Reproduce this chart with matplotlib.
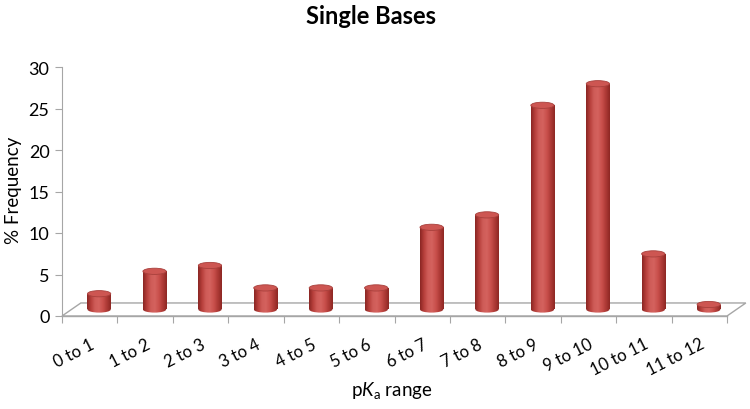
import matplotlib
matplotlib.use("Agg")
import matplotlib.pyplot as plt
import numpy as np
from matplotlib.patches import Rectangle, Ellipse, Polygon
from matplotlib.colors import LinearSegmentedColormap

categories = ["0 to 1", "1 to 2", "2 to 3", "3 to 4", "4 to 5", "5 to 6",
              "6 to 7", "7 to 8", "8 to 9", "9 to 10", "10 to 11", "11 to 12"]
values = [1.9, 4.6, 5.3, 2.6, 2.6, 2.6, 9.9, 11.4, 24.6, 27.2, 6.7, 0.6]
yticks = [0, 5, 10, 15, 20, 25, 30]

plt.rcParams['font.family'] = ['Lato', 'DejaVu Sans']
plt.rcParams['mathtext.fontset'] = 'custom'
plt.rcParams['mathtext.rm'] = 'Lato'
plt.rcParams['mathtext.it'] = 'Lato:italic'

fig = plt.figure(figsize=(7.5, 4.1), dpi=100)
ax = fig.add_axes([62/750, (410-317)/410, (727-62)/750, (317-68)/410])

n = len(categories)
dx = 0.34      # depth offset in x (category units)
dy = 1.57      # depth offset in y (value units)
base = dy / 2
w = 0.42
eh = 0.75

gray = '#A6A6A6'
floor = Polygon([[0, 0], [n, 0], [n + dx, dy], [dx, dy]], closed=True,
                facecolor='none', edgecolor=gray, lw=1.0, clip_on=False, zorder=1)
ax.add_patch(floor)

cmap = LinearSegmentedColormap.from_list(
    'cyl', ['#8A2623', '#B8403C', '#CF5C58', '#D4625E', '#C9504C', '#AE3A36', '#8E2824'])
grad = np.linspace(0, 1, 64).reshape(1, -1)

for i, v in enumerate(values):
    c = i + 0.5 + dx / 2
    x0 = c - w / 2
    top = base + v
    rect = Rectangle((x0, base), w, v, transform=ax.transData, facecolor='none', edgecolor='none')
    ax.add_patch(rect)
    im = ax.imshow(grad, cmap=cmap, extent=(x0, x0 + w, base, top), aspect='auto',
                   interpolation='bilinear', zorder=3)
    im.set_clip_path(rect)
    bot = Ellipse((c, base), w, eh, facecolor='none', edgecolor='none')
    ax.add_patch(bot)
    im2 = ax.imshow(grad, cmap=cmap, extent=(x0, x0 + w, base - eh / 2, base + eh / 2),
                    aspect='auto', interpolation='bilinear', zorder=3)
    im2.set_clip_path(bot)
    ax.add_patch(Ellipse((c, top), w, eh, facecolor='#CD5652', edgecolor='#A8403C',
                         lw=0.6, zorder=4))

ax.set_xlim(0, n)
ax.set_ylim(0, 30)

for s in ['top', 'right', 'bottom']:
    ax.spines[s].set_visible(False)
ax.spines['left'].set_color(gray)
ax.plot([0, n], [0, 0], color=gray, lw=1.0, clip_on=False, zorder=2)

ax.set_yticks(yticks)
ax.set_yticklabels([str(t) for t in yticks], fontsize=13)
ax.tick_params(axis='y', length=5, color=gray, pad=4)

ax.set_xticks(np.arange(n + 1))
ax.set_xticklabels([])
ax.tick_params(axis='x', which='major', length=5, color=gray)
ax.set_xticks(np.arange(n) + 0.5, minor=True)
ax.set_xticklabels(categories, minor=True, rotation=27, ha='right',
                   rotation_mode='anchor', fontsize=12)
ax.tick_params(axis='x', which='minor', length=0, pad=14)

fig.text(14/750, 1 - 190/410, '% Frequency', rotation=90, ha='center', va='center',
         fontsize=13.5)
fig.text(392/750, 1 - 391/410, r'p$\mathit{K}_\mathrm{a}$ range', ha='center', va='center',
         fontsize=13.5)
fig.text(371/750, 1 - 17/410, 'Single Bases', ha='center', va='center',
         fontsize=17, fontweight='bold')

fig.savefig('out.png', dpi=100)
